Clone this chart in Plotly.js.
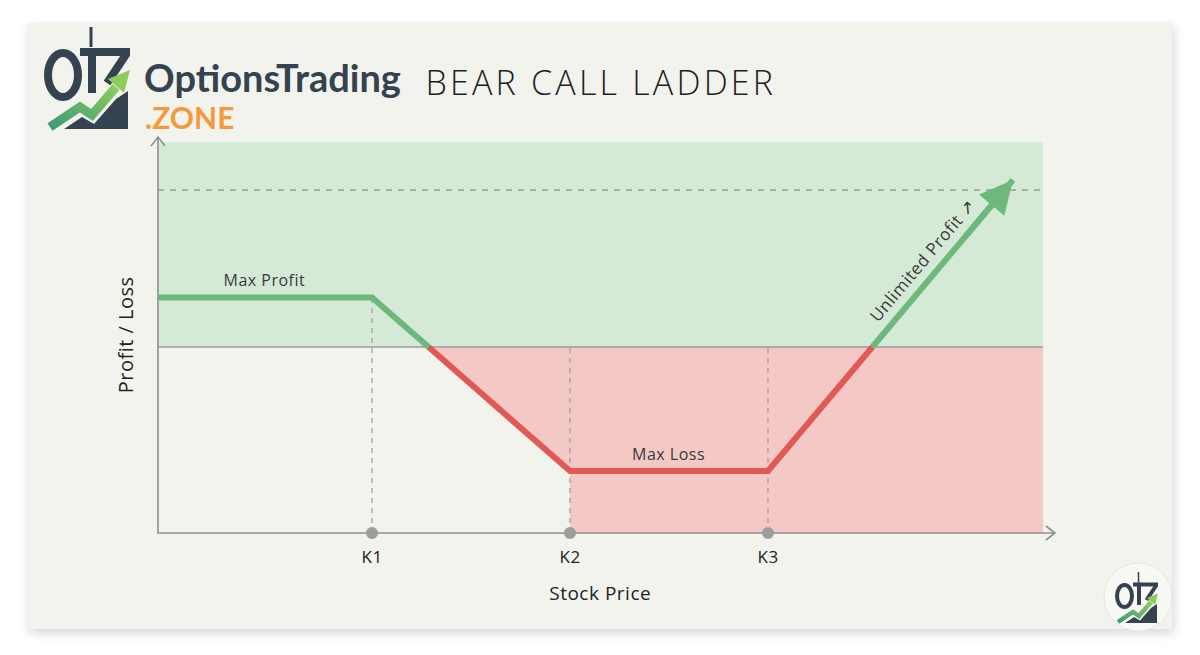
<!DOCTYPE html>
<html><head><meta charset="utf-8">
<script src="https://cdn.plot.ly/plotly-3.0.1.min.js"></script>
<style>
html,body{margin:0;padding:0;background:#ffffff;width:1200px;height:655px;overflow:hidden}
#card{position:absolute;left:27px;top:23px;width:1145px;height:606px;background:#f3f3ee;box-shadow:2px 4px 10px rgba(0,0,0,0.16);}
#chart{position:absolute;left:0;top:0;width:1200px;height:655px}
g.annotation text{letter-spacing:0.5px}
g.annotation[data-index="0"] text{letter-spacing:3.2px}
g.annotation[data-index="1"] text, g.annotation[data-index="2"] text{letter-spacing:0px}
</style></head><body>
<div id="card"></div><div id="chart"></div>
<script>
// ---- data ----
const strikeLabels = ['K1', 'K2', 'K3'];
const strikes = [40, 50, 60];
const payoffX = [29.19, 40, 50, 60, 72.37];
const payoffY = [4, 4, -10, -10, 13.47];
const maxProfit = 4;
const maxLoss = -10;
const upperRef = 12.66;

// ---- layout extents ----
const X_LEFT = 29.19, X_RIGHT = 73.89, X_ARROW = 74.49;
const Y_BOTTOM = -15, Y_TOP = 16.53, Y_ARROW = 16.94;
const ML = 140, MR = 120, MT = 125, MB = 100, W = 1200, H = 655;
const PW = W - ML - MR, PH = H - MT - MB;
const px = p => (p - ML) / PW;          // pixel -> paper x
const py = p => (H - MB - p) / PH;      // pixel -> paper y

const GREEN = '#6cb97b', RED = '#df5a54', GRAY = '#8f8f8f';
const GREEN_FILL = '#d5ead6', RED_FILL = '#f4c9c5';

// split payoff into positive/negative segments
function zeroCross(i) {
  const x0 = payoffX[i], x1 = payoffX[i + 1], y0 = payoffY[i], y1 = payoffY[i + 1];
  return x0 + (0 - y0) * (x1 - x0) / (y1 - y0);
}
const segs = [];
let cur = {x: [payoffX[0]], y: [payoffY[0]], pos: payoffY[0] >= 0};
for (let i = 0; i < payoffX.length - 1; i++) {
  const y0 = payoffY[i], y1 = payoffY[i + 1];
  if ((y0 > 0 && y1 < 0) || (y0 < 0 && y1 > 0)) {
    const zc = zeroCross(i);
    cur.x.push(zc); cur.y.push(0); segs.push(cur);
    cur = {x: [zc], y: [0], pos: y1 > 0};
  }
  cur.x.push(payoffX[i + 1]); cur.y.push(payoffY[i + 1]);
}
segs.push(cur);
const zc1 = segs[1].x[0];

const traces = [];
// green profit zone
traces.push({x: [X_LEFT, X_RIGHT, X_RIGHT, X_LEFT], y: [0, 0, Y_TOP, Y_TOP], fill: 'toself',
  fillcolor: GREEN_FILL, mode: 'none', hoverinfo: 'skip', showlegend: false});
// red loss zone
traces.push({x: [zc1, X_RIGHT, X_RIGHT, strikes[1], strikes[1], zc1],
  y: [0, 0, Y_BOTTOM, Y_BOTTOM, maxLoss, 0], fill: 'toself',
  fillcolor: RED_FILL, mode: 'none', hoverinfo: 'skip', showlegend: false});
// dashed reference lines
traces.push({x: [X_LEFT, X_RIGHT], y: [upperRef, upperRef], mode: 'lines',
  line: {color: '#9a9a9a', width: 1.5, dash: '6px,6px'}, hoverinfo: 'skip', showlegend: false});
strikes.forEach((k, i) => {
  const top = i === 0 ? maxProfit : 0;
  traces.push({x: [k, k], y: [Y_BOTTOM, top], mode: 'lines',
    line: {color: '#a0a0a0', width: 1.3, dash: '5px,5px'}, hoverinfo: 'skip', showlegend: false});
});
// zero line
traces.push({x: [X_LEFT, X_RIGHT], y: [0, 0], mode: 'lines', line: {color: '#9a9a9a', width: 1.5},
  hoverinfo: 'skip', showlegend: false});
// axes
traces.push({x: [X_LEFT, X_LEFT, X_ARROW], y: [Y_ARROW, Y_BOTTOM, Y_BOTTOM], mode: 'lines',
  line: {color: GRAY, width: 1.6}, hoverinfo: 'skip', showlegend: false});
// payoff segments
segs.forEach(s => traces.push({x: s.x, y: s.y, mode: 'lines',
  line: {color: s.pos ? GREEN : RED, width: 6}, hoverinfo: 'skip', showlegend: false}));
// strike dots
traces.push({x: strikes, y: strikes.map(() => Y_BOTTOM), mode: 'markers',
  marker: {color: '#9d9d9d', size: 12}, cliponaxis: false, hoverinfo: 'skip', showlegend: false});

const n = payoffX.length;
const tipX = payoffX[n - 1], tipY = payoffY[n - 1];
const font = 'Open Sans, sans-serif';
const annotations = [
  {text: 'BEAR CALL LADDER', xref: 'paper', yref: 'paper', x: px(601), y: py(82), xanchor: 'center', yanchor: 'middle',
    showarrow: false, font: {family: font, size: 34, color: '#1e1e1e', weight: 300}},
  {text: 'OptionsTrading', xref: 'paper', yref: 'paper', x: px(142), y: py(76.5), xanchor: 'left', yanchor: 'middle',
    height: 44, showarrow: false, font: {family: 'Lato, sans-serif', size: 38, color: '#35424f', weight: 700}},
  {text: '.ZONE', xref: 'paper', yref: 'paper', x: px(143), y: py(117.5), xanchor: 'left', yanchor: 'middle',
    height: 28, showarrow: false, font: {family: 'Lato, sans-serif', size: 30, color: '#f39a3e', weight: 700}},
  {text: 'Max Profit', x: (X_LEFT + strikes[0]) / 2, y: maxProfit, yshift: 17, showarrow: false,
    font: {family: font, size: 16, color: '#3a3a3a'}},
  {text: 'Max Loss', x: (strikes[1] + strikes[2]) / 2, y: maxLoss, yshift: 17, showarrow: false,
    font: {family: font, size: 16, color: '#3a3a3a'}},
  {text: 'Unlimited Profit ↗', x: 67.77, y: 7.0, textangle: -50, showarrow: false,
    font: {family: font, size: 17, color: '#3a3a3a'}},
  {text: 'Profit / Loss', xref: 'paper', yref: 'paper', x: px(125), y: py(335), xanchor: 'center', yanchor: 'middle',
    textangle: -90, showarrow: false, font: {family: font, size: 20, color: '#222'}},
  {text: 'Stock Price', xref: 'paper', yref: 'paper', x: px(600), y: py(593), xanchor: 'center', yanchor: 'middle',
    showarrow: false, font: {family: font, size: 19, color: '#222'}},
  // arrow head of the unlimited-profit leg
  {x: tipX, y: tipY, ax: payoffX[n - 2] + (tipX - payoffX[n - 2]) * 0.8, ay: payoffY[n - 2] + (tipY - payoffY[n - 2]) * 0.8,
    xref: 'x', yref: 'y', axref: 'x', ayref: 'y', text: '', showarrow: true, arrowhead: 2, arrowsize: 1.1,
    arrowwidth: 6, arrowcolor: GREEN, standoff: 0}
];
strikes.forEach((k, i) => annotations.push({text: strikeLabels[i], x: k, y: Y_BOTTOM, yshift: -23,
  showarrow: false, font: {family: font, size: 17, color: '#222'}}));

// axis chevrons
const shapes = [
  {type: 'path', xref: 'paper', yref: 'paper', line: {color: GRAY, width: 1.6},
    path: `M${px(151)},${py(146)} L${px(158)},${py(137)} L${px(165)},${py(146)}`},
  {type: 'path', xref: 'paper', yref: 'paper', line: {color: GRAY, width: 1.6},
    path: `M${px(1046)},${py(526)} L${px(1055)},${py(533)} L${px(1046)},${py(540)}`},
  // small round logo badge
  {type: 'circle', xref: 'paper', yref: 'paper', layer: 'below', x0: px(1104), x1: px(1172), y0: py(631), y1: py(563),
    fillcolor: '#f8f8f5', line: {color: '#e6e6e0', width: 1}}
];

// logo icon (decorative)
const iconSVG = `<svg xmlns="http://www.w3.org/2000/svg" viewBox="0 0 100 110" width="100" height="110">
<defs><linearGradient id="g" x1="0" y1="1" x2="1" y2="0"><stop offset="0" stop-color="#3c9a78"/><stop offset="1" stop-color="#8ccc5c"/></linearGradient></defs>
<line x1="51" y1="2" x2="51" y2="22" stroke="#35424f" stroke-width="3"/>
<ellipse cx="23" cy="50" rx="15" ry="22" fill="none" stroke="#35424f" stroke-width="8"/>
<rect x="48" y="23" width="8" height="45" fill="#35424f"/>
<rect x="40" y="23" width="50" height="8" fill="#35424f"/>
<line x1="87" y1="28" x2="67" y2="58" stroke="#35424f" stroke-width="8"/>
<polygon points="24,104 42,92 54,99 76,74 88,66 88,104" fill="#35424f"/>
<polyline points="10,102 40,82 52,90 76,62" fill="none" stroke="url(#g)" stroke-width="9" stroke-linejoin="miter"/>
<polygon points="90,45 68,54 84,68" fill="#8ccc5c"/>
</svg>`;
const iconURI = 'data:image/svg+xml;charset=utf-8,' + encodeURIComponent(iconSVG);

const images = [
  {source: iconURI, xref: 'paper', yref: 'paper', x: px(40), y: py(25), sizex: 100 / PW, sizey: 110 / PH,
    xanchor: 'left', yanchor: 'top', sizing: 'stretch', layer: 'above'},
  {source: iconURI, xref: 'paper', yref: 'paper', x: px(1113), y: py(571), sizex: 50 / PW, sizey: 55 / PH,
    xanchor: 'left', yanchor: 'top', sizing: 'stretch', layer: 'above'}
];

const layout = {
  width: W, height: H, margin: {l: ML, r: MR, t: MT, b: MB},
  paper_bgcolor: 'rgba(0,0,0,0)', plot_bgcolor: 'rgba(0,0,0,0)',
  xaxis: {range: [28.283, 75.758], visible: false, fixedrange: true},
  yaxis: {range: [-16.774, 17.903], visible: false, fixedrange: true},
  showlegend: false, annotations, shapes, images
};
Plotly.newPlot('chart', traces, layout, {displayModeBar: false, staticPlot: true});
</script>
</body></html>
